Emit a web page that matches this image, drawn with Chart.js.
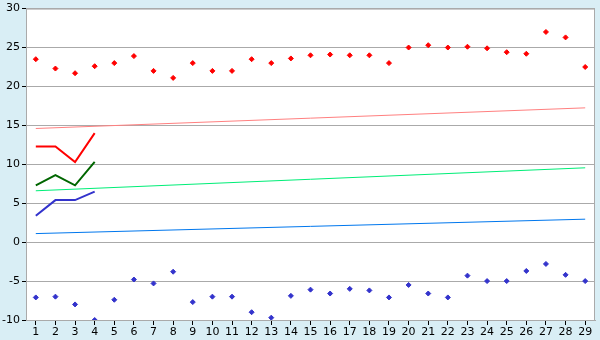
<!DOCTYPE html>
<html>
<head>
<meta charset="utf-8">
<script src="https://cdn.jsdelivr.net/npm/chart.js@4/dist/chart.umd.min.js"></script>
<style>
  body { margin: 0; background: #d9eef5; }
  canvas { display: block; }
</style>
</head>
<body>
<canvas id="chart" width="600" height="340"></canvas>
<script>
// categories (days)
const days = ['1','2','3','4','5','6','7','8','9','10','11','12','13','14','15',
              '16','17','18','19','20','21','22','23','24','25','26','27','28','29'];

// daily highs / lows (diamond markers)
const highs = [23.5, 22.3, 21.7, 22.6, 23.0, 23.9, 22.0, 21.1, 23.0, 22.0, 22.0, 23.5, 23.0, 23.6, 24.0,
               24.1, 24.0, 24.0, 23.0, 25.0, 25.3, 25.0, 25.1, 24.9, 24.4, 24.2, 27.0, 26.3, 22.5];
const lows = [-7.1, -7.0, -8.0, -10.0, -7.4, -4.8, -5.3, -3.8, -7.7, -7.0, -7.0, -9.0, -9.7, -6.9, -6.1,
              -6.6, -6.0, -6.2, -7.1, -5.5, -6.6, -7.1, -4.3, -5.0, -5.0, -3.7, -2.8, -4.2, -5.0];

// short series, first four days
const maxLine = [12.3, 12.3, 10.3, 14.0];
const avgLine = [7.3, 8.6, 7.3, 10.3];
const minLine = [3.4, 5.4, 5.4, 6.5];

// trend lines, start and end values
const trendDays = ['1', '29'];
const maxTrend = [14.6, 17.25];
const avgTrend = [6.6, 9.55];
const minTrend = [1.1, 2.95];

const yTicks = [-10, -5, 0, 5, 10, 15, 20, 25, 30];

function ends(vals) {
    return trendDays.map((d, i) => ({ x: d, y: vals[i] }));
}

const plotFrame = {
    id: 'plotFrame',
    beforeDraw(chart) {
        const { ctx, chartArea: a } = chart;
        ctx.save();
        ctx.fillStyle = '#ffffff';
        ctx.fillRect(a.left, a.top, a.right - a.left, a.bottom - a.top);
        ctx.restore();
    },
    afterDraw(chart) {
        const { ctx, chartArea: a } = chart;
        ctx.save();
        ctx.strokeStyle = '#aaaaaa';
        ctx.lineWidth = 1;
        ctx.strokeRect(a.left + 0.5, a.top + 0.5, a.right - a.left - 1, a.bottom - a.top);
        ctx.restore();
    }
};

const pointSet = (data, color) => ({
    data: data,
    showLine: false,
    pointStyle: 'rectRot',
    pointRadius: 2.5,
    backgroundColor: color,
    borderColor: color,
    borderWidth: 1
});

const lineSet = (data, color, width) => ({
    data: data,
    borderColor: color,
    borderWidth: width,
    pointRadius: 0,
    tension: 0,
    fill: false,
    spanGaps: true
});

new Chart(document.getElementById('chart'), {
    type: 'line',
    data: {
        labels: days,
        datasets: [
            lineSet(ends(maxTrend), '#ff8080', 1),
            lineSet(ends(avgTrend), '#00ee77', 1),
            lineSet(ends(minTrend), '#0077ee', 1),
            lineSet(maxLine, '#ff0000', 2),
            lineSet(avgLine, '#006600', 2),
            lineSet(minLine, '#3333cc', 2),
            pointSet(highs, '#ff0000'),
            pointSet(lows, '#3333cc')
        ]
    },
    options: {
        responsive: false,
        animation: false,
        layout: { padding: { top: 5, right: 5, left: 0, bottom: 0 } },
        plugins: { legend: { display: false }, tooltip: { enabled: false } },
        scales: {
            x: {
                type: 'category',
                offset: true,
                grid: { drawOnChartArea: false, tickLength: 5, tickColor: '#000000' },
                border: { color: '#aaaaaa' },
                ticks: { color: '#000000', font: { family: 'DejaVu Sans', size: 11 }, padding: 1, maxRotation: 0, autoSkip: false },
                afterFit(scale) { scale.height = 20; }
            },
            y: {
                min: -10,
                max: 30,
                afterBuildTicks(scale) { scale.ticks = yTicks.map(v => ({ value: v })); },
                grid: { color: '#aaaaaa', tickLength: 4, tickColor: '#000000' },
                border: { color: '#aaaaaa' },
                ticks: { color: '#000000', font: { family: 'DejaVu Sans', size: 11 }, padding: 2 },
                afterFit(scale) { scale.width = 26; }
            }
        }
    },
    plugins: [plotFrame]
});
</script>
</body>
</html>
